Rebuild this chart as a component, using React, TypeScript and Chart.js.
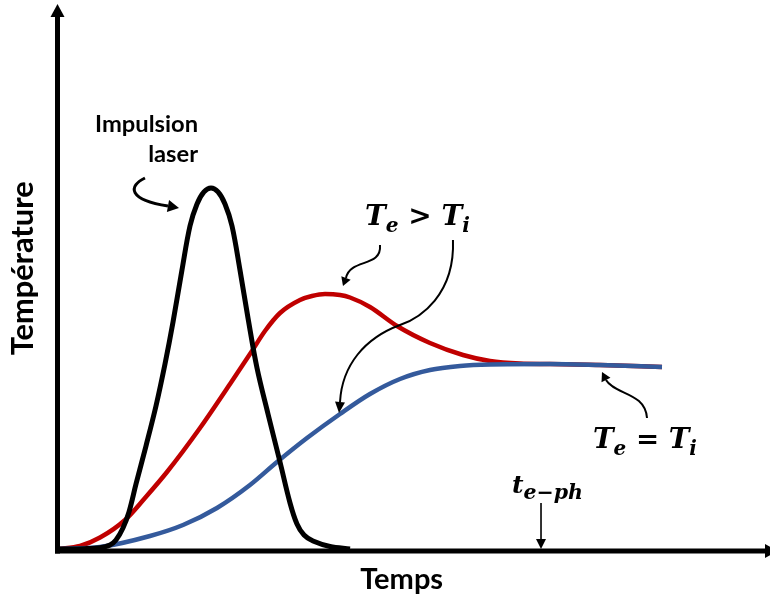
import React, { useEffect, useRef } from "react";
import { Chart, registerables } from "chart.js";

Chart.register(...registerables);

// ---- data (time in arbitrary units 0..100, temperature 0..100) ----
const pulseTime = [0, 3.8, 5.92, 7.32, 8.17, 9.15, 10.0, 10.99, 12.39, 13.8, 15.07, 16.2, 17.46, 18.59, 19.58, 20.56, 21.55, 22.54, 23.52, 24.51, 25.63, 26.76, 28.03, 29.58, 31.27, 32.68, 33.66, 34.65, 35.92, 38.31, 41.13];
const pulseTemp = [0, 0.06, 0.24, 0.74, 1.65, 3.86, 6.8, 11.95, 18.93, 26.29, 34.01, 41.73, 51.29, 59.38, 63.42, 65.63, 66.36, 65.63, 63.42, 59.38, 51.29, 42.46, 33.27, 24.82, 15.99, 8.46, 4.6, 2.57, 1.47, 0.46, 0];

const electronTime = [0, 3.1, 5.92, 9.44, 12.25, 15.35, 20.0, 24.23, 27.32, 29.15, 31.27, 34.08, 35.77, 37.61, 39.72, 41.13, 43.94, 47.75, 52.39, 57.04, 60.85, 65.07, 69.3, 76.34, 85.07];
const electronTemp = [0, 0.55, 2.1, 5.33, 9.38, 14.15, 22.24, 30.33, 36.4, 40.07, 43.38, 45.77, 46.51, 46.88, 46.69, 46.23, 44.49, 40.99, 37.87, 35.66, 34.56, 34.1, 34.01, 33.82, 33.46];

const ionTime = [0, 5.92, 12.96, 17.61, 22.39, 27.04, 30.85, 35.07, 39.72, 43.94, 48.17, 52.39, 56.62, 60.85, 69.3, 76.34, 85.07];
const ionTemp = [0, 0.37, 2.39, 4.41, 7.54, 11.76, 15.99, 20.4, 24.82, 28.49, 31.25, 32.9, 33.64, 33.92, 34.01, 33.82, 33.46];

const xTitle = "Temps";
const yTitle = "Température";
const pulseLabel = ["Impulsion", "laser"];

const W = 770;
const H = 598;

type Part = { t: string; sub?: boolean; up?: boolean };

const neqParts: Part[] = [{ t: "T" }, { t: "e", sub: true }, { t: " > ", up: true }, { t: "T" }, { t: "i", sub: true }];
const eqParts: Part[] = [{ t: "T" }, { t: "e", sub: true }, { t: " = ", up: true }, { t: "T" }, { t: "i", sub: true }];
const tephParts: Part[] = [{ t: "t" }, { t: "e\u2212ph", sub: true }];

function fontFor(p: Part, s: number, ratio: number) {
  const size = p.sub ? s * ratio : s;
  return `${p.up ? "" : "italic "}bold ${size}px "DejaVu Serif"`;
}

function drawMath(ctx: CanvasRenderingContext2D, parts: Part[], x: number, baseline: number, targetW: number, ratio: number, drop: number) {
  let w = 0;
  for (const p of parts) {
    ctx.font = fontFor(p, 100, ratio);
    w += ctx.measureText(p.t).width;
  }
  const s = (100 * targetW) / w;
  let cx = x;
  ctx.textAlign = "left";
  ctx.textBaseline = "alphabetic";
  for (const p of parts) {
    ctx.font = fontFor(p, s, ratio);
    ctx.fillText(p.t, cx, baseline + (p.sub ? drop * s : 0));
    cx += ctx.measureText(p.t).width;
  }
}

function fitFont(ctx: CanvasRenderingContext2D, text: string, targetW: number) {
  ctx.font = `bold 100px Lato`;
  const w = ctx.measureText(text).width;
  const s = (100 * targetW) / w;
  ctx.font = `bold ${s}px Lato`;
}

function head(ctx: CanvasRenderingContext2D, bx: number, by: number, tx: number, ty: number, hw: number) {
  const dx = tx - bx;
  const dy = ty - by;
  const L = Math.hypot(dx, dy) || 1;
  const nx = -dy / L;
  const ny = dx / L;
  ctx.beginPath();
  ctx.moveTo(tx, ty);
  ctx.lineTo(bx + nx * hw, by + ny * hw);
  ctx.lineTo(bx - nx * hw, by - ny * hw);
  ctx.closePath();
  ctx.fill();
}

const overlay = {
  id: "overlay",
  afterDatasetsDraw(chart: any) {
    const ctx: CanvasRenderingContext2D = chart.ctx;
    const xs = chart.scales.x;
    const ys = chart.scales.y;
    const X = (v: number) => xs.getPixelForValue(v);
    const Y = (v: number) => ys.getPixelForValue(v);
    const P = (a: number[]) => [X(a[0]), Y(a[1])];
    ctx.save();
    ctx.fillStyle = "#000";
    ctx.strokeStyle = "#000";
    ctx.lineCap = "butt";

    // axes
    const ax = X(0) - 0.5;
    const ay = Y(0) + 2;
    ctx.lineWidth = 5;
    ctx.beginPath();
    ctx.moveTo(ax, ay + 2.5);
    ctx.lineTo(ax, Y(100) + 12);
    ctx.stroke();
    head(ctx, ax, Y(100) + 12, ax, Y(100) - 1, 7);
    ctx.beginPath();
    ctx.moveTo(ax - 2.5, ay);
    ctx.lineTo(X(100) - 3, ay);
    ctx.stroke();
    head(ctx, X(100) - 3, ay, X(100) + 10, ay, 7);

    // axis titles
    fitFont(ctx, xTitle, 83);
    ctx.textAlign = "center";
    ctx.textBaseline = "alphabetic";
    ctx.fillText(xTitle, X(48.4), Y(-7.35));
    ctx.save();
    ctx.translate(X(-3.52), Y(51.6));
    ctx.rotate(-Math.PI / 2);
    fitFont(ctx, yTitle, 174);
    ctx.fillText(yTitle, 0, 0);
    ctx.restore();

    // laser pulse label
    ctx.textAlign = "right";
    fitFont(ctx, pulseLabel[0], 103);
    const lblFont = ctx.font;
    ctx.fillText(pulseLabel[0], X(19.72), Y(76.65));
    ctx.font = lblFont;
    ctx.fillText(pulseLabel[1], X(19.72), Y(71.14));

    // hook arrow to pulse
    {
      const s = P([12.25, 68.2]), c1 = P([9.86, 66.7]), c2 = P([9.86, 64.2]), e = P([15.49, 63.05]), t = P([17.04, 62.68]);
      ctx.lineWidth = 3;
      ctx.beginPath();
      ctx.moveTo(s[0], s[1]);
      ctx.bezierCurveTo(c1[0], c1[1], c2[0], c2[1], e[0], e[1]);
      ctx.stroke();
      head(ctx, e[0], e[1], t[0], t[1], 6);
    }

    // Te > Ti
    drawMath(ctx, neqParts, X(43.24), Y(59.56), 105, 0.72, 0.26);
    {
      const s = P([45.35, 55.88]), c1 = P([45.63, 51.65]), c2 = P([41.13, 53.49]), e = P([40.56, 49.82]), t = P([40.14, 48.35]);
      ctx.lineWidth = 2;
      ctx.beginPath();
      ctx.moveTo(s[0], s[1]);
      ctx.bezierCurveTo(c1[0], c1[1], c2[0], c2[1], e[0], e[1]);
      ctx.stroke();
      head(ctx, e[0], e[1], t[0], t[1], 5);
    }
    {
      const s = P([55.63, 56.8]), c1 = P([55.92, 46.69]), c2 = P([50.99, 42.46]), m = P([48.17, 41.18]);
      const c3 = P([43.24, 38.79]), c4 = P([40.0, 33.82]), e = P([39.72, 27.02]), t = P([39.58, 25.0]);
      ctx.lineWidth = 2;
      ctx.beginPath();
      ctx.moveTo(s[0], s[1]);
      ctx.bezierCurveTo(c1[0], c1[1], c2[0], c2[1], m[0], m[1]);
      ctx.bezierCurveTo(c3[0], c3[1], c4[0], c4[1], e[0], e[1]);
      ctx.stroke();
      head(ctx, e[0], e[1], t[0], t[1], 5);
    }

    // Te = Ti
    drawMath(ctx, eqParts, X(75.35), Y(18.57), 104, 0.72, 0.26);
    {
      const s = P([82.96, 24.08]), c1 = P([82.68, 28.86]), c2 = P([78.45, 28.31]), e = P([77.18, 31.07]), t = P([76.62, 32.54]);
      ctx.lineWidth = 2;
      ctx.beginPath();
      ctx.moveTo(s[0], s[1]);
      ctx.bezierCurveTo(c1[0], c1[1], c2[0], c2[1], e[0], e[1]);
      ctx.stroke();
      head(ctx, e[0], e[1], t[0], t[1], 5);
    }

    // t e-ph
    drawMath(ctx, tephParts, X(63.94), Y(10.29), 71, 0.82, 0.22);
    {
      const s = P([68.03, 8.46]), e = P([68.03, 1.84]), t = P([68.03, 0]);
      ctx.lineWidth = 1.6;
      ctx.beginPath();
      ctx.moveTo(s[0], s[1]);
      ctx.lineTo(e[0], e[1]);
      ctx.stroke();
      head(ctx, e[0], e[1], t[0], t[1], 5);
    }

    ctx.restore();
  },
};

const pts = (xs: number[], ys: number[]) => xs.map((x, i) => ({ x, y: ys[i] }));

export default function App() {
  const ref = useRef<HTMLCanvasElement>(null);
  useEffect(() => {
    const canvas = ref.current;
    if (!canvas) return;
    const chart = new Chart(canvas, {
      type: "line",
      data: {
        datasets: [
          { label: "Impulsion laser", data: pts(pulseTime, pulseTemp), borderColor: "#000000", borderWidth: 5, tension: 0.35, pointRadius: 0, fill: false },
          { label: "Ti", data: pts(ionTime, ionTemp), borderColor: "#345a9c", borderWidth: 4.5, cubicInterpolationMode: "monotone", pointRadius: 0, fill: false },
          { label: "Te", data: pts(electronTime, electronTemp), borderColor: "#c00000", borderWidth: 4.5, cubicInterpolationMode: "monotone", pointRadius: 0, fill: false },
        ],
      } as any,
      options: {
        animation: false,
        responsive: false,
        events: [],
        layout: { padding: { left: 58, top: 5, right: 2, bottom: 49 } },
        plugins: { legend: { display: false }, tooltip: { enabled: false } },
        scales: {
          x: { type: "linear", min: 0, max: 100, display: false },
          y: { type: "linear", min: 0, max: 100, display: false },
        },
      } as any,
      plugins: [overlay],
    });
    return () => chart.destroy();
  }, []);
  return (
    <div style={{ position: "fixed", left: 0, top: 0, width: W, height: H, background: "#ffffff" }}>
      <canvas ref={ref} width={W} height={H} style={{ width: W, height: H, display: "block" }} />
    </div>
  );
}
